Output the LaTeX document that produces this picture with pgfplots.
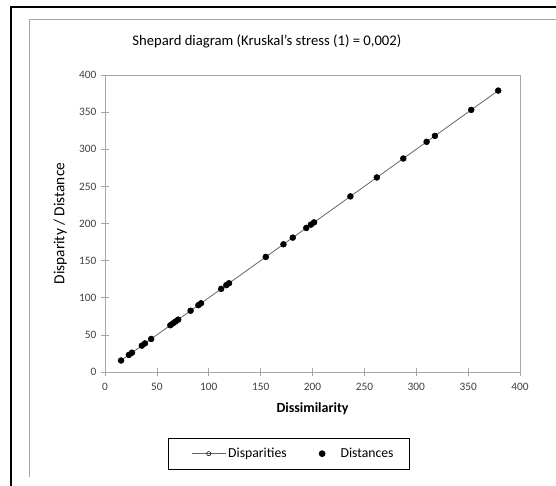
\documentclass[border=0pt]{standalone}
\usepackage{fontspec}
\setmainfont{Carlito}
\usepackage{pgfplots}
\pgfplotsset{compat=1.18}
\usepackage{pgfplotstable}

\definecolor{axisgray}{HTML}{A6A6A6}
\definecolor{linegray}{HTML}{666666}
\definecolor{labelgray}{HTML}{404040}

\pgfplotsset{
    dispimg/.style={legend image code/.code={
        \path (-7pt,0pt);
        \draw[mark repeat=2, mark phase=2, ##1] plot coordinates {(0pt,0pt) (12.75pt,0pt) (25.5pt,0pt)};
    }},
    distimg/.style={legend image code/.code={
        \path (0pt,0pt) (24pt,0pt);
        \draw[##1] plot coordinates {(12pt,0pt)};
    }},
}

% dissimilarity, disparity, distance
\pgfplotstableread{
x y d
15.5 15.5 15.5
23 23 23
26 26 26
35.5 35.5 35.5
38.5 38.5 38.5
44.5 44.5 44.5
63 63 63
65.5 65.5 65.5
68 68 68
70.5 70.5 70.5
82.5 82.5 82.5
90 90 90
92.5 92.5 92.5
112 112 112
117 117 117
119.5 119.5 119.5
155 155 155
172 172 172
181 181 181
194 194 194
198.5 198.5 198.5
201.5 201.5 201.5
236.5 236.5 236.5
262 262 262
287.5 287.5 287.5
310 310 310
318 318 318
353 353 353
379 379 379
}\shepard

\begin{document}
\begin{tikzpicture}
\useasboundingbox (-78.75pt,-84.75pt) rectangle (338.25pt,279pt);
% outer frames
\draw[black, line width=1.1pt] (-70.5pt,-90pt) -- (-70.5pt,273.75pt) -- (345pt,273.75pt);
\draw[axisgray, line width=0.75pt] (-56.25pt,-78.75pt) -- (-56.25pt,264pt) -- (345pt,264pt);
\begin{axis}[
    scale only axis,
    width=311.25pt, height=222.75pt,
    xmin=0, xmax=400, ymin=0, ymax=400,
    xtick={0,50,...,400}, ytick={0,50,...,400},
    tick pos=left,
    tick align=center,
    major tick length=6pt,
    axis line style={axisgray},
    every tick/.style={axisgray},
    tick label style={font=\fontsize{8.5}{10}\selectfont, text=labelgray},
    /pgf/number format/assume math mode=true,
    xticklabel style={yshift=-2pt},
    title={Shepard diagram (Kruskal's stress (1) = 0,002)},
    title style={at={(axis description cs:0.39,1.0875)}, anchor=center, font=\fontsize{11}{13}\selectfont},
    xlabel={Dissimilarity},
    xlabel style={at={(axis description cs:0.5,-0.1246)}, anchor=center, font=\bfseries\fontsize{10.5}{12}\selectfont},
    ylabel={Disparity / Distance},
    ylabel style={at={(axis description cs:-0.108,0.5)}, anchor=center, font=\fontsize{11.5}{13}\selectfont},
    legend columns=2,
    legend style={at={(axis description cs:0.443,-0.275)}, anchor=center,
        draw=black, line width=0.6pt, font=\fontsize{10.3}{12}\selectfont,
        inner xsep=10.5pt, inner ysep=5.5pt,
        nodes={inner xsep=1.5pt},
        /tikz/every even column/.append style={column sep=12.75pt}},
]
\addplot[linegray, line width=0.6pt, mark=o, mark size=1.6pt,
    mark options={fill=white, draw=black, line width=0.4pt}, dispimg]
    table[x=x, y=y] {\shepard};
\addlegendentry{Disparities}
\addplot[only marks, mark=*, mark size=2.2pt, black, distimg]
    table[x=x, y=d] {\shepard};
\addlegendentry{Distances}
\end{axis}
\end{tikzpicture}
\end{document}
